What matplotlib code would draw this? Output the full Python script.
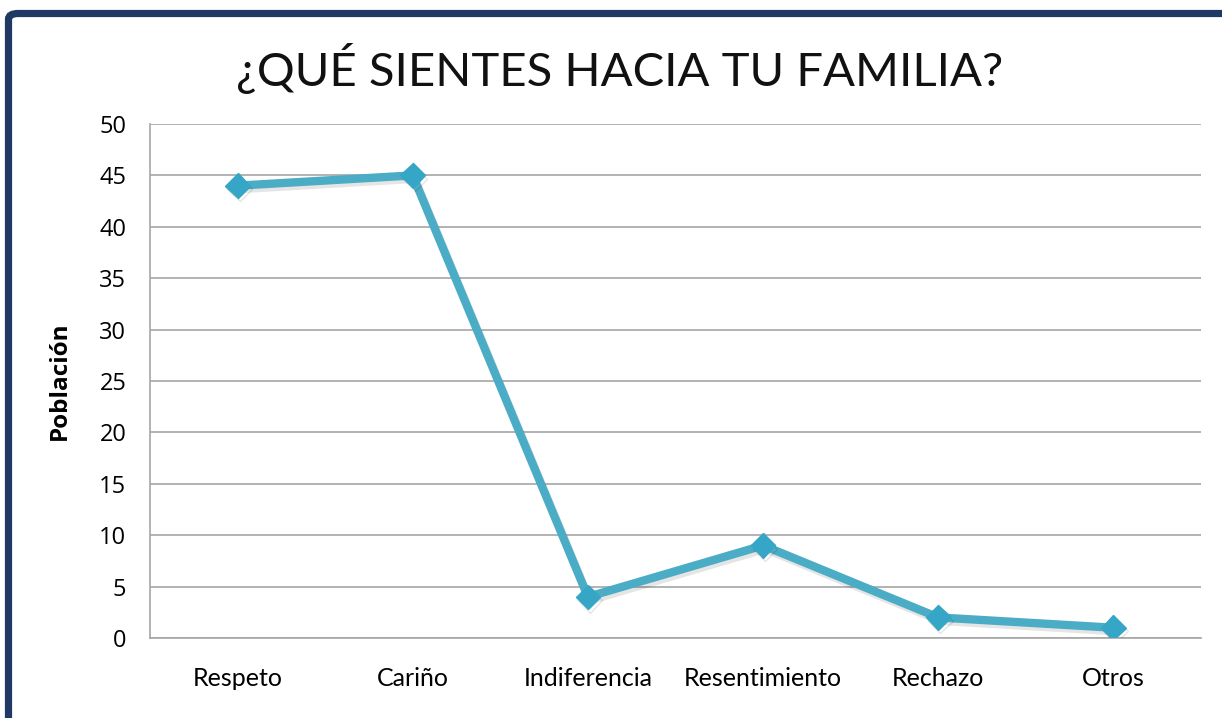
import matplotlib.pyplot as plt
import matplotlib.patheffects as pe
from matplotlib.patches import FancyBboxPatch

categorias = ["Respeto", "Cariño", "Indiferencia", "Resentimiento", "Rechazo", "Otros"]
poblacion = [44, 45, 4, 9, 2, 1]
yticks = [0, 5, 10, 15, 20, 25, 30, 35, 40, 45, 50]

linea_color = "#4BACC6"
marcador_color = "#36A6C6"
marco_color = "#1F3864"
grid_color = "#A6A6A6"

fig = plt.figure(figsize=(12.22, 7.18), dpi=100)
ax = fig.add_axes([150 / 1222, 1 - 638 / 718, 1051 / 1222, 514 / 718])

x = list(range(len(categorias)))
ax.plot(x, poblacion, color=linea_color, linewidth=6, marker="D",
        markersize=12.5, markerfacecolor=marcador_color,
        markeredgecolor=marcador_color, zorder=3,
        path_effects=[pe.SimpleLineShadow(offset=(1.5, -2.5), shadow_color="#000000", alpha=0.1),
                      pe.Normal()])

ax.set_xlim(-0.5, len(categorias) - 0.5)
ax.set_ylim(0, 50)
ax.set_yticks(yticks)
ax.set_xticks(x)
ax.set_xticklabels(categorias, fontfamily="Lato", fontsize=18)
for lbl in ax.get_yticklabels():
    lbl.set_fontfamily("Open Sans")
    lbl.set_fontsize(17)
ax.tick_params(axis="y", length=0, pad=17)
ax.tick_params(axis="x", length=0, pad=21)

ax.grid(axis="y", color=grid_color, linewidth=1.2)
ax.set_axisbelow(True)
for s in ["top", "right"]:
    ax.spines[s].set_visible(False)
ax.spines["left"].set_color(grid_color)
ax.spines["bottom"].set_color(grid_color)
ax.spines["left"].set_linewidth(1.2)
ax.spines["bottom"].set_linewidth(1.2)

ax.set_ylabel("Población", fontfamily="Open Sans", fontweight="bold", fontsize=17.5)
ax.yaxis.set_label_coords(-78 / 1051, 0.5)

fig.text(620 / 1222, 1 - 69 / 718, "¿QUÉ SIENTES HACIA TU FAMILIA?",
         fontfamily="Lato", fontsize=34, ha="center", va="center", color="#111111")

marco = FancyBboxPatch((8.5 / 1222, -0.2), 1.3, 1.2 - 13.5 / 718,
                       boxstyle="round,pad=0,rounding_size=0.008",
                       transform=fig.transFigure, facecolor="none",
                       edgecolor=marco_color, linewidth=5.2)
fig.patches.append(marco)

fig.savefig("out.png", dpi=100)
